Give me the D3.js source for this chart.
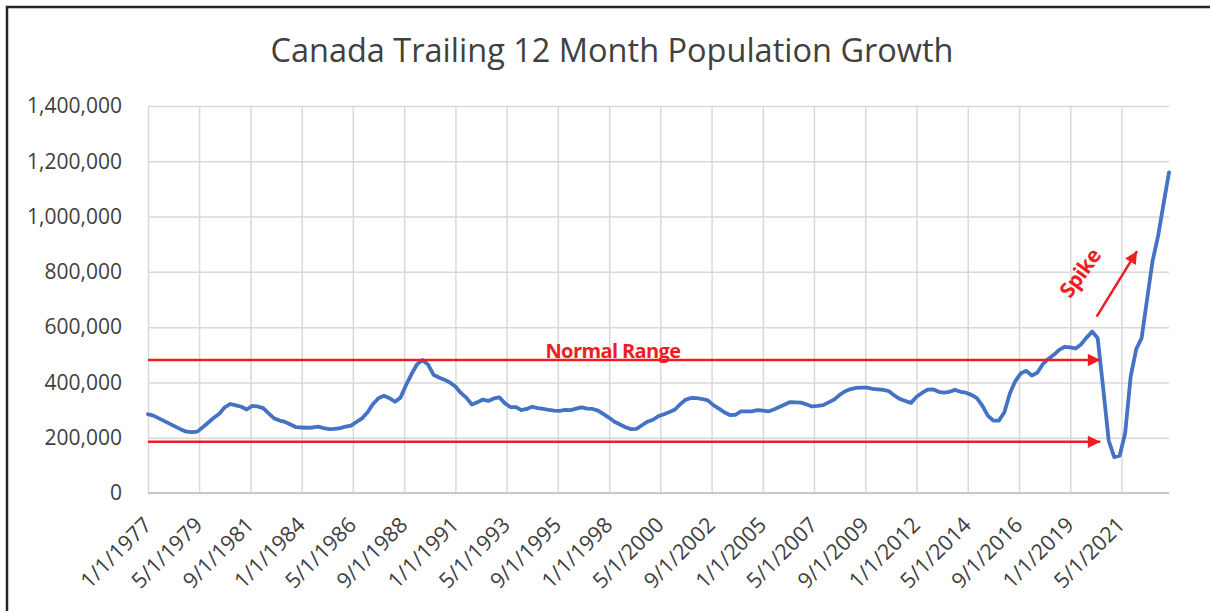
<!DOCTYPE html>
<html>
<head>
<meta charset="utf-8">
<script src="https://cdn.jsdelivr.net/npm/d3@7"></script>
<style>
  body { margin: 0; background: #fff; }
  svg { display: block; font-family: "Open Sans", sans-serif; }
</style>
</head>
<body>
<div id="chart"></div>
<script>
// ---- data (trailing 12 month growth, thousands, quarterly from 1/1/1977) ----
var startDate = "1/1/1977";
var growthK = [
  285,280,270,260,250,240,230,222,220,222,
  238,255,272,287,310,322,317,312,302,315,
  313,307,288,270,262,257,248,238,237,236,
  237,240,235,231,232,235,240,244,257,270,
  292,322,343,352,343,330,345,390,430,465,
  481,465,428,418,410,400,385,362,345,320,
  328,338,333,342,346,325,311,311,300,304,
  312,307,304,301,298,297,301,300,305,310,
  305,304,298,285,272,258,248,238,231,232,
  245,258,265,278,285,293,302,322,338,344,
  343,340,335,318,305,292,282,283,295,295,
  295,300,298,295,302,311,320,329,328,327,
  320,313,315,318,328,338,355,368,376,380,
  381,381,377,375,373,368,352,340,333,326,
  348,362,374,375,366,363,366,373,366,363,
  355,343,315,280,262,262,292,360,405,433,
  442,425,435,466,485,500,518,529,527,523,
  538,563,584,560,380,190,130,135,215,420,
  520,560,700,840,930,1045,1160
];
var xTickLabels = ["1/1/1977","5/1/1979","9/1/1981","1/1/1984","5/1/1986","9/1/1988",
  "1/1/1991","5/1/1993","9/1/1995","1/1/1998","5/1/2000","9/1/2002","1/1/2005",
  "5/1/2007","9/1/2009","1/1/2012","5/1/2014","9/1/2016","1/1/2019","5/1/2021"];
var yTicksK = [0, 200, 400, 600, 800, 1000, 1200, 1400];

// annotations
var normalRangeK = [185, 481];
var rangeArrowEnd = "5/15/2020";
var spikeArrow = [["3/15/2020", 638], ["1/15/2022", 875]];
var spikeLabel = ["6/15/2019", 796];

var width = 1210, height = 611;
var plotLeft = 148, plotRight = 1169, plotTop = 106, plotBottom = 493;
var red = "#ee1d24";

var parse = d3.timeParse("%m/%d/%Y");
var fmt = d3.timeFormat("%-m/%-d/%Y");
var t0 = parse(startDate);
var series = growthK.map(function(v, i) {
  return { date: d3.timeMonth.offset(t0, 3 * i), value: v };
});

var x = d3.scaleTime()
    .domain([t0, series[series.length - 1].date])
    .range([plotLeft, plotRight]);
var y = d3.scaleLinear()
    .domain([0, 1400])
    .range([plotBottom, plotTop]);

var svg = d3.select("#chart").append("svg")
    .attr("width", width)
    .attr("height", height);

// outer frame
svg.append("rect")
    .attr("x", 7).attr("y", 7)
    .attr("width", 1300).attr("height", 700)
    .style("fill", "none")
    .style("stroke", "#262626")
    .style("stroke-width", "2.5px");

svg.append("text")
    .attr("x", 612).attr("y", 62)
    .style("text-anchor", "middle")
    .style("font-size", "32.5px")
    .style("fill", "#404040")
    .text("Canada Trailing 12 Month Population Growth");

// gridlines
var tickDates = xTickLabels.map(parse);

svg.append("g")
    .attr("transform", "translate(0," + plotBottom + ")")
    .call(d3.axisBottom(x).tickValues(tickDates).tickSize(-(plotBottom - plotTop)).tickFormat(""))
    .call(function(g) { g.select(".domain").remove(); })
    .selectAll("line")
    .style("stroke", "#d9d9d9")
    .style("stroke-width", "1.5px");

svg.append("g")
    .attr("transform", "translate(" + plotLeft + ",0)")
    .call(d3.axisLeft(y).tickValues(yTicksK).tickSize(-(plotRight - plotLeft)).tickFormat(""))
    .call(function(g) { g.select(".domain").remove(); })
    .selectAll("line")
    .style("stroke", "#d9d9d9")
    .style("stroke-width", "1.5px");

svg.append("line")
    .attr("x1", plotLeft).attr("x2", plotRight)
    .attr("y1", plotBottom).attr("y2", plotBottom)
    .style("stroke", "#c8c8c8")
    .style("stroke-width", "1.8px");

// y labels
svg.append("g")
    .attr("transform", "translate(" + plotLeft + ",0)")
    .call(d3.axisLeft(y).tickValues(yTicksK).tickSize(0).tickPadding(26)
      .tickFormat(function(d) { return d3.format(",")(d * 1000); }))
    .call(function(g) { g.select(".domain").remove(); })
    .selectAll("text")
    .style("font-size", "21px")
    .style("font-family", "'Open Sans', sans-serif")
    .style("fill", "#404040");

// x labels
svg.append("g")
    .attr("transform", "translate(0," + plotBottom + ")")
    .call(d3.axisBottom(x).tickValues(tickDates).tickSize(0).tickFormat(fmt))
    .call(function(g) { g.select(".domain").remove(); })
    .selectAll("text")
    .attr("x", 0).attr("y", 0)
    .attr("dy", "0.35em")
    .attr("transform", "translate(-1,28) rotate(-45)")
    .style("text-anchor", "end")
    .style("font-size", "21.5px")
    .style("font-family", "'Open Sans', sans-serif")
    .style("fill", "#404040");

// the series
var line = d3.line()
    .x(function(d) { return x(d.date); })
    .y(function(d) { return y(d.value); });

svg.append("path")
    .datum(series)
    .attr("d", line)
    .style("fill", "none")
    .style("stroke", "#4472c4")
    .style("stroke-width", "3.8px")
    .style("stroke-linejoin", "round")
    .style("stroke-linecap", "round");

// arrows
svg.append("defs").append("marker")
    .attr("id", "arrow")
    .attr("viewBox", "0 0 10 10")
    .attr("refX", 10).attr("refY", 5)
    .attr("markerWidth", 7).attr("markerHeight", 5)
    .attr("markerUnits", "strokeWidth")
    .attr("orient", "auto")
  .append("path")
    .attr("d", "M0,0 L10,5 L0,10 Z")
    .style("fill", red);

svg.selectAll(".range")
    .data(normalRangeK)
  .enter().append("line")
    .attr("class", "range")
    .attr("x1", plotLeft)
    .attr("x2", x(parse(rangeArrowEnd)))
    .attr("y1", function(d) { return y(d); })
    .attr("y2", function(d) { return y(d); })
    .attr("marker-end", "url(#arrow)")
    .style("stroke", red)
    .style("stroke-width", "2.5px");

svg.append("text")
    .attr("x", 613).attr("y", y(normalRangeK[1]) - 2)
    .style("text-anchor", "middle")
    .style("font-size", "20px")
    .style("font-weight", "bold")
    .style("letter-spacing", "-0.6px")
    .style("fill", red)
    .text("Normal Range");

svg.append("line")
    .attr("x1", x(parse(spikeArrow[0][0]))).attr("y1", y(spikeArrow[0][1]))
    .attr("x2", x(parse(spikeArrow[1][0]))).attr("y2", y(spikeArrow[1][1]))
    .attr("marker-end", "url(#arrow)")
    .style("stroke", red)
    .style("stroke-width", "2.5px");

svg.append("text")
    .attr("transform", "translate(" + x(parse(spikeLabel[0])) + "," + y(spikeLabel[1]) + ") rotate(-54)")
    .attr("dy", "0.35em")
    .style("text-anchor", "middle")
    .style("font-size", "21px")
    .style("font-weight", "bold")
    .style("letter-spacing", "-0.5px")
    .style("fill", red)
    .text("Spike");
</script>
</body>
</html>
